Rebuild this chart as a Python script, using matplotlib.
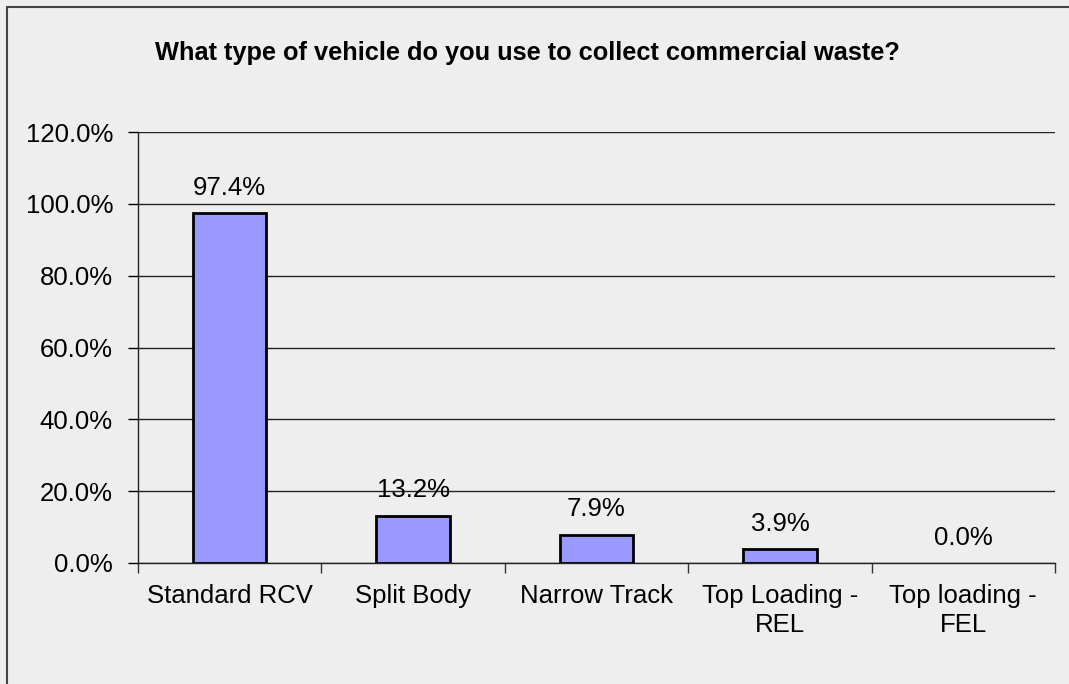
import matplotlib
matplotlib.use("Agg")
import matplotlib.pyplot as plt
from matplotlib.patches import Rectangle
from matplotlib.ticker import MultipleLocator, FuncFormatter

categories = ["Standard RCV", "Split Body", "Narrow Track",
              "Top Loading -\nREL", "Top loading -\nFEL"]
values = [97.4, 13.2, 7.9, 3.9, 0.0]
title = "What type of vehicle do you use to collect commercial waste?"

plt.rcParams["font.family"] = ["Liberation Sans", "DejaVu Sans"]

W, H, DPI = 1069, 684, 100
fig = plt.figure(figsize=(W / DPI, H / DPI), dpi=DPI)
bg = "#eeeeee"
fig.patch.set_facecolor(bg)

# chart frame
fig.add_artist(Rectangle((7 / W, -0.1), 1.2, 1 - 7 / H + 0.1,
                         transform=fig.transFigure, fill=False,
                         edgecolor="#444444", linewidth=1.5))

left, right, top, bottom = 138, 1055, 132, 563
ax = fig.add_axes([left / W, 1 - bottom / H, (right - left) / W, (bottom - top) / H])
ax.set_facecolor(bg)

x = list(range(len(categories)))
bars = ax.bar(x, values, width=0.40, color="#9999ff", edgecolor="black",
              linewidth=2, zorder=3)
for b, v in zip(bars, values):
    if v == 0:
        b.set_linewidth(0)

for xi, v in zip(x, values):
    ax.annotate(f"{v:.1f}%", (xi, v), xytext=(0, 9.5), textcoords="offset points",
                ha="center", va="bottom", fontsize=18.5, zorder=4)

ax.set_xlim(-0.5, len(categories) - 0.5)
ax.set_ylim(0, 120)
ax.yaxis.set_major_locator(MultipleLocator(20))
ax.yaxis.set_major_formatter(FuncFormatter(lambda v, p: f"{v:.1f}%"))
ax.grid(axis="y", color="#222222", linewidth=1, zorder=0)
ax.set_axisbelow(True)

ax.set_xticks([i + 0.5 for i in range(-1, len(categories))])
ax.set_xticklabels([])
ax.set_xticks(x, minor=True)
ax.set_xticklabels(categories, minor=True, fontsize=18.5, linespacing=1.25)
ax.tick_params(axis="x", which="minor", length=0, pad=15)
ax.tick_params(axis="x", which="major", length=7, width=1, color="#333333")
ax.tick_params(axis="y", length=7, width=1, labelsize=18.5, pad=11)

for s in ["top", "right"]:
    ax.spines[s].set_visible(False)
for s in ["left", "bottom"]:
    ax.spines[s].set_color("#222222")
    ax.spines[s].set_linewidth(1)

fig.text((150 + 905) / 2 / W, 1 - 53 / H, title, ha="center", va="center",
         fontsize=18.3, fontweight="bold")

fig.savefig("out.png", dpi=DPI, facecolor=bg)
